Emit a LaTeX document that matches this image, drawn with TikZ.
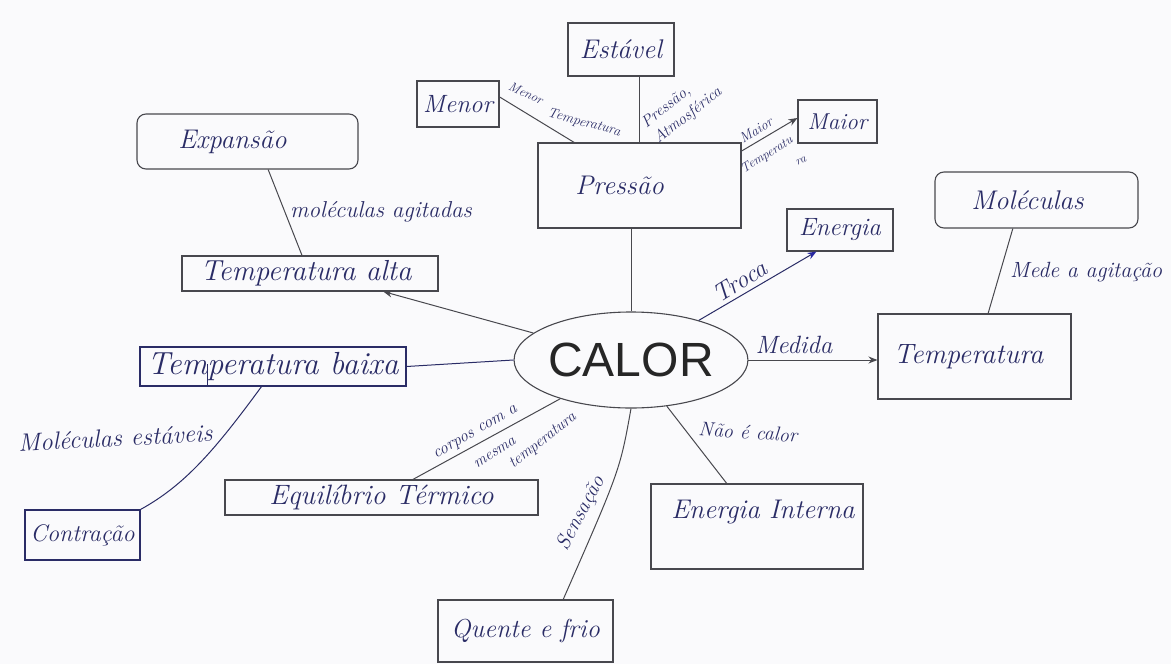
\documentclass[tikz,border=0pt]{standalone}
\usepackage{fontspec}
\newfontfamily\calorfont{Liberation Sans}
\usetikzlibrary{calc,arrows.meta,shapes.geometric}
\definecolor{ink}{RGB}{42,44,102}
\definecolor{pencil}{RGB}{72,72,78}
\definecolor{tipblue}{RGB}{40,40,160}
\definecolor{paper}{RGB}{250,250,252}
\tikzset{
  hw/.style={font=\itshape\fontsize{#1}{#1}\selectfont, text=ink, inner sep=0pt},
  box/.style={draw=pencil, line width=1.1pt, inner sep=0pt},
  inkbox/.style={draw=ink, line width=1.1pt, inner sep=0pt},
  rbox/.style={box, rounded corners=9pt},
  wire/.style={draw=pencil, line width=1pt},
  inkwire/.style={draw=ink, line width=1pt},
  arr/.style={-{Stealth[length=9pt,width=7pt]}},
}
\begin{document}
\begin{tikzpicture}[x=1pt,y=-1pt]
\path[fill=paper] (0,0) rectangle (1171,664);
\useasboundingbox (0,0) rectangle (1171,664);

% central concept
\node[ellipse, draw=pencil, line width=1.1pt, minimum width=208pt, minimum height=96pt,
      inner sep=0pt, font=\calorfont\fontsize{48}{48}\selectfont, text=black!85] (calor) at (631,360) {CALOR};

% boxes
\node[box, minimum width=106pt, minimum height=53pt, hw=27] (estavel) at (621,49.5) {Estável};
\node[box, minimum width=82pt, minimum height=46pt, hw=25] (menor) at (458,104) {Menor};
\node[box, minimum width=203pt, minimum height=85pt, hw=27] (pressao) at (639.5,185.5) {Pressão\hspace*{40pt}};
\node[box, minimum width=79pt, minimum height=43pt, hw=23] (maior) at (837.5,121.5) {Maior};
\node[rbox, minimum width=221pt, minimum height=55pt, hw=27] (expansao) at (247.5,141.5) {Expansão\hspace*{30pt}};
\node[box, minimum width=256pt, minimum height=35pt, hw=29] (talta) at (310,273.5) {Temperatura alta\hspace*{8pt}};
\node[inkbox, minimum width=266pt, minimum height=39pt, hw=32] (tbaixa) at (273,366.5) {Temperatura baixa};
\node[inkbox, minimum width=115pt, minimum height=50pt, hw=24] (contracao) at (82.5,535) {Contração};
\node[box, minimum width=313pt, minimum height=35pt, hw=28] (equil) at (381.5,497.5) {Equilíbrio Térmico};
\node[box, minimum width=212pt, minimum height=85pt] (energiaint) at (757,526.5) {};
\node[hw=27] (teint) at (763,512) {Energia Interna};
\node[box, minimum width=175pt, minimum height=62pt, hw=26] (quente) at (525.5,631) {Quente e frio};
\node[box, minimum width=193pt, minimum height=85pt, hw=28] (temp) at (974.5,356.5) {Temperatura\hspace*{12pt}};
\node[rbox, minimum width=203pt, minimum height=56pt, hw=27] (moleculas) at (1036.5,200) {Moléculas\hspace*{18pt}};
\node[box, minimum width=106pt, minimum height=42pt, hw=25] (energia) at (840,230) {Energia};

% connectors around Pressão
\draw[wire] (pressao.north) -- (pressao.north |- estavel.south);
\draw[wire] ($(menor.north east)!0.35!(menor.south east)$) -- ($(pressao.north west)!0.18!(pressao.north east)$);
\draw[wire,arr] ($(pressao.north east)!0.1!(pressao.south east)$) -- ($(maior.north west)!0.42!(maior.south west)$);
\draw[wire] (calor.north) -- (calor.north |- pressao.south);

% left branches
\draw[wire] ($(expansao.south west)!0.593!(expansao.south east)$) -- ($(talta.north west)!0.469!(talta.north east)$);
\draw[wire,arr] (calor) -- ($(talta.south west)!0.785!(talta.south east)$);
\draw[inkwire] (calor.west) -- (tbaixa.east);
\draw[inkwire] ($(tbaixa.south west)!0.256!(tbaixa.south east)$) -- ++(0,-23);
\draw[inkwire] ($(tbaixa.south west)!0.457!(tbaixa.south east)$) .. controls (215,450) and (185,485) .. (contracao.north east);
\draw[wire] (calor) -- ($(equil.north west)!0.6!(equil.north east)$);

% lower branches
\draw[wire] (calor.south) .. controls (620,470) .. ($(quente.north west)!0.714!(quente.north east)$);
\draw[wire] (calor) -- ($(energiaint.north west)!0.358!(energiaint.north east)$);

% right branches
\draw[inkwire, -{Stealth[length=9pt,width=7pt,color=tipblue]}] (calor) -- ($(energia.south west)!0.28!(energia.south east)$);
\draw[wire,arr] (calor.east) -- (calor.east -| temp.west);
\draw[wire] ($(moleculas.south west)!0.384!(moleculas.south east)$) -- ($(temp.north west)!0.57!(temp.north east)$);

% connector labels
\node[hw=23, anchor=west] (lagit) at (290,212) {moléculas agitadas};
\node[hw=13, rotate=-25] (lmenor1) at (526,93) {Menor};
\node[hw=14, rotate=-15] (lmenor2) at (584,123) {Temperatura};
\node[hw=16, rotate=38, align=left] (lpatm) at (682,108) {Pressão,\\[4pt]Atmosférica};
\node[hw=14, rotate=32] (lmaior) at (756,130) {Maior};
\node[hw=13, rotate=32] (ltemp1) at (767,155) {Temperatu};
\node[hw=12, rotate=20] (ltemp2) at (801,161) {ra};
\node[hw=25, rotate=32] (ltroca) at (740,281) {Troca};
\node[hw=25] (lmedida) at (794,345) {Medida};
\node[hw=22, anchor=west] (lmede) at (1010,272) {Mede a agitação};
\node[hw=25, anchor=west, rotate=3] (lestaveis) at (18,443) {Moléculas estáveis};
\node[hw=17, rotate=30] (lcorpos) at (476,433) {corpos com a};
\node[hw=16, rotate=33] (lmesma) at (495,453) {mesma};
\node[hw=16, rotate=38] (ltemp3) at (543,441) {temperatura};
\node[hw=20, rotate=-4] (lnao) at (748,432) {Não é calor};
\node[hw=21, rotate=62] (lsens) at (581,513) {Sensação};
\end{tikzpicture}
\end{document}
